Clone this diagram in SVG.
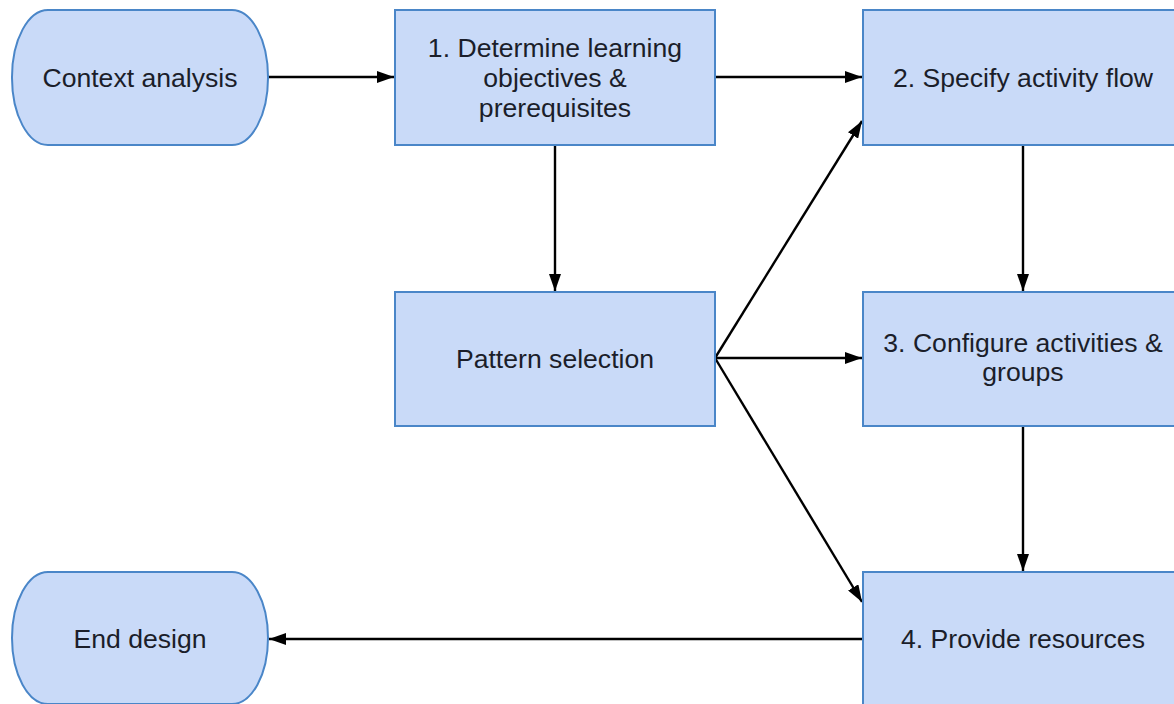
<svg xmlns="http://www.w3.org/2000/svg" width="1174" height="704" viewBox="0 0 1174 704">
  <style>
    .box { fill: #c9daf8; stroke: #4a86c8; stroke-width: 2; }
    .lbl { font-family: "Liberation Sans", Arial, sans-serif; font-size: 26.6px; fill: #1b1e2a; text-anchor: middle; }
    .edge { fill: none; stroke: #000; stroke-width: 2.4; }
  </style>
  <defs>
    <marker id="arrow" viewBox="0 0 17 12" refX="17" refY="6" markerWidth="17" markerHeight="12" markerUnits="userSpaceOnUse" orient="auto">
      <path d="M0,0 L17,6 L0,12 Z" fill="#000"/>
    </marker>
  </defs>
  <rect width="1174" height="704" fill="#fff"/>

  <!-- connectors -->
  <g id="connectors">
    <line class="edge" x1="268" y1="77" x2="394" y2="77" marker-end="url(#arrow)"/>
    <line class="edge" x1="715" y1="77" x2="862" y2="77" marker-end="url(#arrow)"/>
    <line class="edge" x1="555" y1="145" x2="555" y2="291" marker-end="url(#arrow)"/>
    <line class="edge" x1="715" y1="358" x2="862" y2="121" marker-end="url(#arrow)"/>
    <line class="edge" x1="715" y1="358" x2="862" y2="358" marker-end="url(#arrow)"/>
    <line class="edge" x1="715" y1="358" x2="862" y2="602" marker-end="url(#arrow)"/>
    <line class="edge" x1="1023" y1="145" x2="1023" y2="291" marker-end="url(#arrow)"/>
    <line class="edge" x1="1023" y1="426" x2="1023" y2="571" marker-end="url(#arrow)"/>
    <line class="edge" x1="863" y1="639" x2="269" y2="639" marker-end="url(#arrow)"/>
  </g>

  <!-- nodes -->
  <g id="context-analysis">
    <rect class="box" x="12" y="10" width="256" height="135" rx="36" ry="67"/>
    <text class="lbl" x="140" y="87">Context analysis</text>
  </g>
  <g id="step1">
    <rect class="box" x="395" y="10" width="320" height="135"/>
    <text class="lbl" x="555" y="57">1. Determine learning</text>
    <text class="lbl" x="555" y="87">objectives &amp;</text>
    <text class="lbl" x="555" y="117">prerequisites</text>
  </g>
  <g id="step2">
    <rect class="box" x="863" y="10" width="320" height="135"/>
    <text class="lbl" x="1023" y="87">2. Specify activity flow</text>
  </g>
  <g id="pattern-selection">
    <rect class="box" x="395" y="292" width="320" height="134"/>
    <text class="lbl" x="555" y="368">Pattern selection</text>
  </g>
  <g id="step3">
    <rect class="box" x="863" y="292" width="320" height="134"/>
    <text class="lbl" x="1023" y="352">3. Configure activities &amp;</text>
    <text class="lbl" x="1023" y="381">groups</text>
  </g>
  <g id="step4">
    <rect class="box" x="863" y="572" width="320" height="140"/>
    <text class="lbl" x="1023" y="648">4. Provide resources</text>
  </g>
  <g id="end-design">
    <rect class="box" x="12" y="572" width="256" height="132" rx="36" ry="66"/>
    <text class="lbl" x="140" y="648">End design</text>
  </g>
</svg>
